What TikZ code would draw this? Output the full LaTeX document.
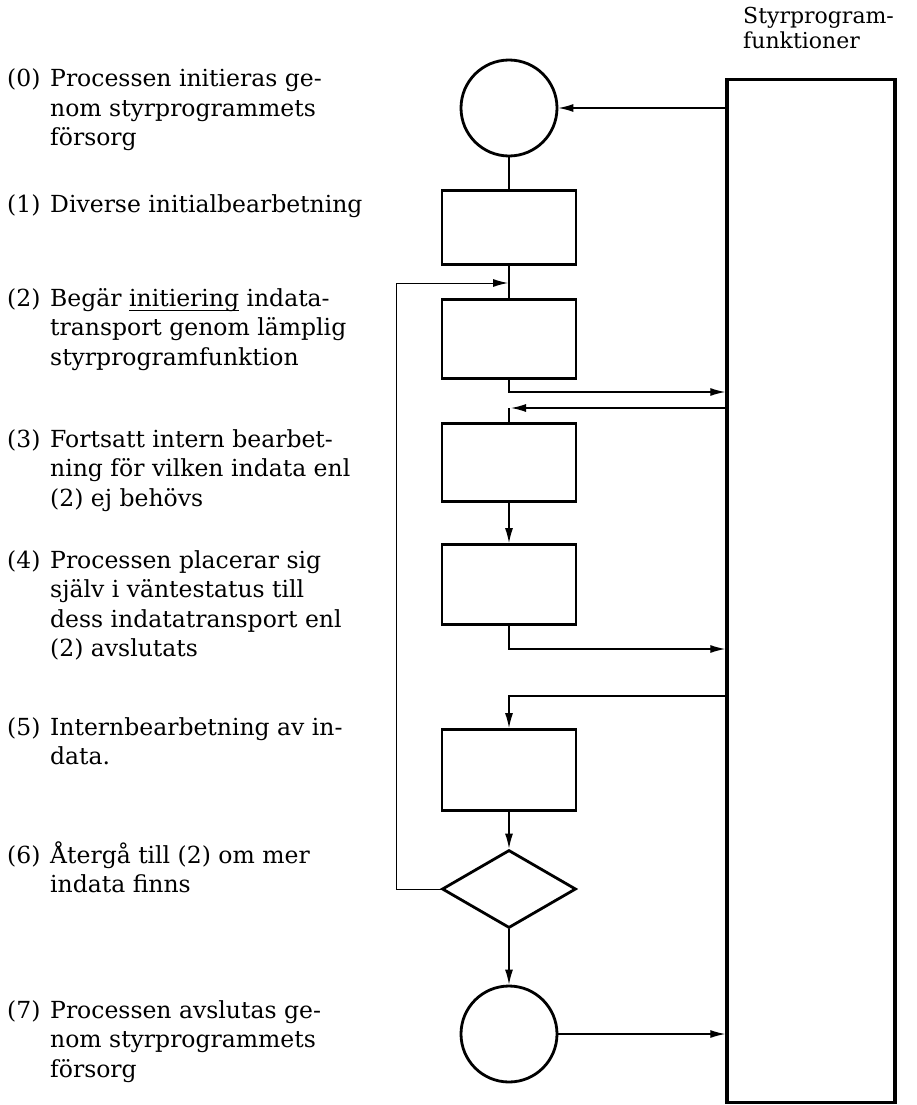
\documentclass[tikz,border=0pt]{standalone}
\usepackage{fontspec}
\setmainfont{DejaVu Serif}
\usetikzlibrary{shapes.geometric,arrows.meta}
% underline drawn close to the baseline, as on a typewriter
\newcommand\typeul[1]{\setbox0\hbox{#1}\rlap{\rule[-5pt]{\wd0}{1.1pt}}\box0\relax}
\newcommand\lines[1]{\begin{tabular}[t]{@{}l@{}}#1\end{tabular}}
\begin{document}
\begin{tikzpicture}[x=1pt,y=-1pt,
  stepbox/.style={draw, rectangle, line width=2.8pt, minimum width=134pt, inner sep=0pt},
  term/.style={draw, circle, line width=2.8pt, minimum size=96pt, inner sep=0pt},
  test/.style={draw, diamond, line width=2.8pt, minimum width=134pt, minimum height=78pt, inner sep=0pt},
  funcs/.style={draw, rectangle, line width=3.4pt, minimum width=168pt, minimum height=1023pt, inner sep=0pt},
  conn/.style={line width=1.3pt},
  arr/.style={conn, -{Latex[length=15pt,width=8pt]}},
  num/.style={anchor=base west, inner sep=0pt, font=\fontsize{23.5}{29.5}\selectfont},
  txt/.style={anchor=base west, inner sep=0pt, font=\fontsize{23.5}{29.5}\selectfont},
]
\useasboundingbox (0,0) rectangle (916,1105);

% control program column
\node[funcs] (fn) at (811,591) {};
\node[anchor=base west, inner sep=0pt, font=\fontsize{22}{25}\selectfont] (fnlabel) at (743,24)
  {\lines{Styrprogram-\\funktioner}};

% process flow, all on one vertical axis
\node[term] (c0) at (509,108) {};
\node[stepbox, minimum height=74pt] (b1) at (509,227.5) {};
\node[stepbox, minimum height=79pt] (b2) at (509,339) {};
\node[stepbox, minimum height=78pt] (b3) at (509,462.5) {};
\node[stepbox, minimum height=80pt] (b4) at (509,584.5) {};
\node[stepbox, minimum height=81pt] (b5) at (509,770) {};
\node[test] (dm) at (509,889) {};
\node[term] (c1) at (509,1034) {};

\coordinate (loopx) at (396,283);
\coordinate (loopin) at (508,283);
\coordinate (o2) at (509,392);
\coordinate (i3) at (509,408);
\coordinate (o4) at (509,649);
\coordinate (i5) at (509,696);

\draw[arr] (fn.west |- c0.east) -- (c0.east);
\draw[conn] (c0.south) -- (b1.north);
\draw[conn] (b1.south) -- (b2.north);
\draw[arr, line width=1pt] (dm.west) -| (loopx) -- (loopin);
\draw[arr] (b2.south) -- (o2) -- (fn.west |- o2);
\draw[arr, shorten >=2pt] (fn.west |- i3) -- (i3);
\draw[conn] (i3) -- (b3.north);
\draw[arr] (b3.south) -- (b4.north);
\draw[arr] (b4.south) -- (o4) -- (fn.west |- o4);
\draw[arr] (fn.west |- i5) -- (i5) -- (b5.north);
\draw[arr] (b5.south) -- (dm.north);
\draw[arr] (dm.south) -- (c1.north);
\draw[arr] (c1.east) -- (fn.west |- c1.east);

% step descriptions
\node[num] (n0) at (7,87) {(0)};
\node[txt] (t0) at (50,87) {\lines{Processen initieras ge-\\nom styrprogrammets\\försorg}};
\node[num] (n1) at (7,212) {(1)};
\node[txt] (t1) at (50,212) {\lines{Diverse initialbearbetning}};
\node[num] (n2) at (7,306) {(2)};
\node[txt] (t2) at (50,306) {\lines{Begär \typeul{initiering} indata-\\transport genom lämplig\\styrprogramfunktion}};
\node[num] (n3) at (7,447) {(3)};
\node[txt] (t3) at (50,447) {\lines{Fortsatt intern bearbet-\\ning för vilken indata enl\\(2) ej behövs}};
\node[num] (n4) at (7,568) {(4)};
\node[txt] (t4) at (50,568) {\lines{Processen placerar sig\\själv i väntestatus till\\dess indatatransport enl\\(2) avslutats}};
\node[num] (n5) at (7,735) {(5)};
\node[txt] (t5) at (50,735) {\lines{Internbearbetning av in-\\data.}};
\node[num] (n6) at (7,863) {(6)};
\node[txt] (t6) at (50,863) {\lines{Återgå till (2) om mer\\indata finns}};
\node[num] (n7) at (7,1018) {(7)};
\node[txt] (t7) at (50,1018) {\lines{Processen avslutas ge-\\nom styrprogrammets\\försorg}};
\end{tikzpicture}
\end{document}
